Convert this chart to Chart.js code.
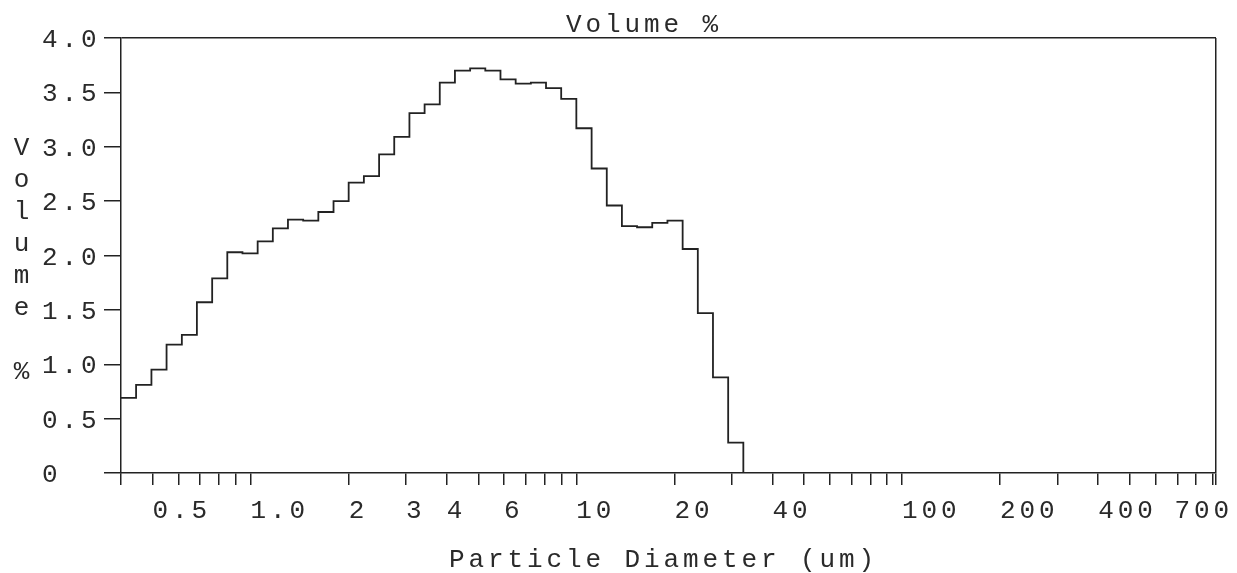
<!DOCTYPE html>
<html lang="en">
<head>
    <meta charset="UTF-8">
    <title>Volume %</title>
    <style>
        body {
            margin: 0;
            padding: 0;
            background: #fff;
        }
        canvas {
            display: block;
        }
    </style>
</head>
<body>
    <canvas id="psd" width="1237" height="573"></canvas>

    <script src="https://cdn.jsdelivr.net/npm/chart.js"></script>
    <script>
        // bin edges (um), 41 channels
        const binEdges = [0.400, 0.445, 0.496, 0.552, 0.615, 0.684, 0.762, 0.848, 0.944, 1.051,
                          1.170, 1.302, 1.450, 1.614, 1.797, 2.000, 2.227, 2.480, 2.760, 3.073,
                          3.421, 3.808, 4.239, 4.720, 5.254, 5.849, 6.512, 7.250, 8.070, 8.984,
                          10.00, 11.14, 12.40, 13.80, 15.36, 17.10, 19.04, 21.20, 23.60, 26.27,
                          29.25, 32.56];
        // volume % per channel
        const volumePct = [0.69, 0.81, 0.95, 1.18, 1.27, 1.57, 1.79, 2.03, 2.02, 2.13,
                           2.25, 2.33, 2.32, 2.40, 2.50, 2.67, 2.73, 2.93, 3.09, 3.31,
                           3.39, 3.59, 3.70, 3.72, 3.70, 3.62, 3.58, 3.59, 3.54, 3.44,
                           3.17, 2.80, 2.46, 2.27, 2.26, 2.30, 2.32, 2.06, 1.47, 0.88,
                           0.28];

        const xMin = 0.4;
        const xMax = 920;
        const xTickValues = [0.4, 0.5, 0.6, 0.7, 0.8, 0.9, 1, 2, 3, 4, 5, 6, 7, 8, 9,
                             10, 20, 30, 40, 50, 60, 70, 80, 90,
                             100, 200, 300, 400, 500, 600, 700, 800, 900];
        const xLabelValues = [0.5, 1, 2, 3, 4, 6, 10, 20, 40, 100, 200, 400, 700];
        const xLabels = ['0.5', '1.0', '2', '3', '4', '6', '10', '20', '40', '100', '200', '400', '700'];

        const yTickValues = [0, 0.5, 1, 1.5, 2, 2.5, 3, 3.5, 4];
        const yLabels = ['0', '0.5', '1.0', '1.5', '2.0', '2.5', '3.0', '3.5', '4.0'];
        const yTitle = ['V', 'o', 'l', 'u', 'm', 'e', '', '%'];

        const INK = '#222';
        const PITCH = 19.5;   // printer spacing between characters
        const GLYPH = 15.6;   // advance of one monospace char at 26px

        // points for a step outline: each value holds from its edge to the next
        const points = volumePct.map((v, i) => ({ x: binEdges[i], y: v }));
        points.push({ x: binEdges[binEdges.length - 1], y: 0 });

        function spaced(ctx, text, x, y) {
            for (let i = 0; i < text.length; i++) {
                ctx.fillText(text[i], x + i * PITCH, y);
            }
        }
        function spacedWidth(text) {
            return (text.length - 1) * PITCH + GLYPH;
        }

        // all the text is drawn here so it gets the wide printer spacing
        const printText = {
            id: 'printText',
            afterDraw(chart) {
                const ctx = chart.ctx;
                const xs = chart.scales.x;
                const ys = chart.scales.y;
                ctx.save();
                ctx.fillStyle = '#2a2a2a';
                ctx.font = '26px "Liberation Mono", monospace';
                ctx.textBaseline = 'alphabetic';
                ctx.textAlign = 'left';

                spaced(ctx, 'Volume %', 566, 32);

                yTickValues.forEach((v, i) => {
                    spaced(ctx, yLabels[i], 42, ys.getPixelForValue(v) + 9);
                });

                xLabelValues.forEach((v, i) => {
                    let x = xs.getPixelForValue(v);
                    const w = spacedWidth(xLabels[i]);
                    if (x + w > 1229) x = 1229 - w;
                    spaced(ctx, xLabels[i], x, 518);
                });

                spaced(ctx, 'Particle Diameter (um)', 449, 567);

                ctx.textAlign = 'center';
                yTitle.forEach((ch, i) => {
                    if (ch) ctx.fillText(ch, 21.5, 155 + i * 32);
                });
                ctx.restore();
            }
        };

        const ctx = document.getElementById('psd').getContext('2d');
        new Chart(ctx, {
            type: 'line',
            data: {
                datasets: [{
                    label: 'Volume %',
                    data: points,
                    stepped: 'before',
                    borderColor: INK,
                    borderWidth: 1.8,
                    pointRadius: 0,
                    fill: false
                }]
            },
            options: {
                responsive: false,
                animation: false,
                layout: { padding: { top: 38, right: 21, left: 0, bottom: 0 } },
                plugins: {
                    legend: { display: false },
                    title: { display: false },
                    tooltip: { enabled: false }
                },
                scales: {
                    x: {
                        type: 'logarithmic',
                        min: xMin,
                        max: xMax,
                        afterBuildTicks: s => { s.ticks = xTickValues.concat([xMax]).map(v => ({ value: v })); },
                        afterFit: s => { s.height = 100; },
                        ticks: { display: false },
                        grid: {
                            color: c => (c.tick && c.tick.value === xMax) ? INK : 'rgba(0,0,0,0)',
                            tickColor: INK,
                            tickLength: 12,
                            lineWidth: 1.5
                        },
                        border: { display: true, color: INK, width: 1.5 }
                    },
                    y: {
                        min: 0,
                        max: 4,
                        afterBuildTicks: s => { s.ticks = yTickValues.map(v => ({ value: v })); },
                        afterFit: s => { s.width = 121; },
                        ticks: { display: false },
                        grid: {
                            color: c => (c.tick && c.tick.value === 4) ? INK : 'rgba(0,0,0,0)',
                            tickColor: INK,
                            tickLength: 17,
                            lineWidth: 1.5
                        },
                        border: { display: true, color: INK, width: 1.5 }
                    }
                }
            },
            plugins: [printText]
        });
    </script>
</body>
</html>
